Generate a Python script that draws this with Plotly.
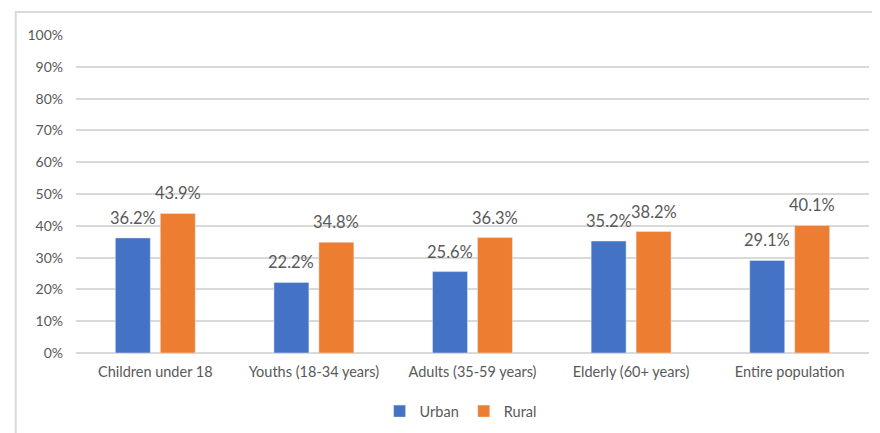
import plotly.graph_objects as go

groups = ["Children under 18", "Youths (18-34 years)", "Adults (35-59 years)",
          "Elderly (60+ years)", "Entire population"]
urban = [36.2, 22.2, 25.6, 35.2, 29.1]
rural = [43.9, 34.8, 36.3, 38.2, 40.1]
y_ticks = [0, 10, 20, 30, 40, 50, 60, 70, 80, 90, 100]

font = "Lato, 'Open Sans', sans-serif"
grey = "#595959"

fig = go.Figure()
fig.add_trace(go.Bar(x=groups, y=urban, name="Urban", marker_color="#4472C4"))
fig.add_trace(go.Bar(x=groups, y=rural, name="Rural", marker_color="#ED7D31"))

# data labels sit a little above each bar, like the Excel ones
for vals, shift in [(urban, -22.5), (rural, 22.5)]:
    for g, v in zip(groups, vals):
        fig.add_annotation(x=g, y=v, xref="x", yref="y", text=f"{v:.1f}%",
                           showarrow=False, xshift=shift, yanchor="bottom", yshift=8,
                           font=dict(size=16.5, color=grey, family=font))

# page body adds an 8px margin, so the figure is 8px smaller and shifted back
fig.update_layout(
    width=872, height=425,
    margin=dict(l=68, r=11, t=27, b=80, autoexpand=False),
    paper_bgcolor="white", plot_bgcolor="white",
    barmode="group", bargap=0.433, bargroupgap=0.222,
    font=dict(family=font, color=grey, size=14),
    legend=dict(orientation="h", x=0.485, xanchor="center", y=-0.183, yanchor="middle",
                font=dict(size=14.5, color=grey), itemwidth=30, traceorder="normal"),
    showlegend=True,
)
fig.update_yaxes(range=[0, 100], tickvals=y_ticks, ticktext=[f"{t}%" for t in y_ticks],
                 showgrid=True, gridcolor="#D9D9D9", gridwidth=1.5, zeroline=True,
                 zerolinecolor="#D9D9D9", zerolinewidth=1.5, ticklabelstandoff=12,
                 tickfont=dict(size=14, color=grey))
fig.update_xaxes(showgrid=False, tickfont=dict(size=14.5, color=grey), ticklabelstandoff=8)

# chart frame
fig.add_shape(type="rect", xref="paper", yref="paper",
              x0=-0.076, x1=1.03, y0=-0.3, y1=1.072,
              line=dict(color="#D9D9D9", width=2), layer="below")

fig.write_html("out.html")
